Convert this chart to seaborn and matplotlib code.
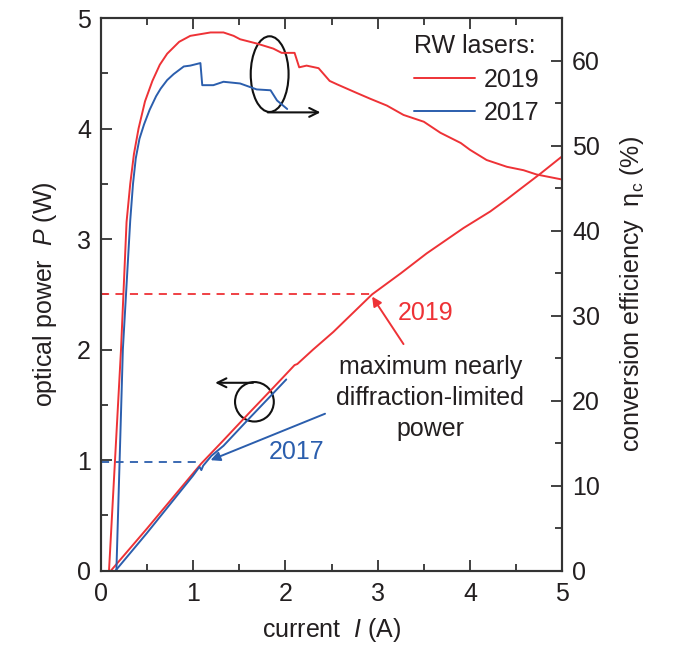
import numpy as np
import pandas as pd
import matplotlib
matplotlib.use("Agg")
import matplotlib.pyplot as plt
from matplotlib.patches import Ellipse
from matplotlib.lines import Line2D
import seaborn as sns

# ---------------- data ----------------
# optical power P (W) vs current I (A)
p19_I = [0.11, 0.5, 1.0, 1.09, 1.33, 1.6, 1.84, 2.01, 2.10, 2.13, 2.30, 2.52, 2.94, 3.25, 3.53, 3.93, 4.22, 4.40, 4.54, 4.76, 5.0]
p19_P = [0.0, 0.38, 0.88, 0.97, 1.18, 1.42, 1.63, 1.78, 1.86, 1.87, 2.0, 2.16, 2.50, 2.69, 2.87, 3.10, 3.25, 3.36, 3.45, 3.59, 3.75]
p17_I = [0.16, 0.5, 1.0, 1.07, 1.09, 1.11, 1.2, 1.33, 1.6, 1.84, 2.01]
p17_P = [0.0, 0.34, 0.86, 0.94, 0.91, 0.95, 1.04, 1.13, 1.37, 1.58, 1.73]

# conversion efficiency (%) vs current I (A)
e19_I = [0.09, 0.22, 0.28, 0.32, 0.36, 0.41, 0.48, 0.56, 0.64, 0.72, 0.85, 0.97, 1.08, 1.19, 1.33, 1.44, 1.51,
         1.69, 1.87, 1.96, 2.10, 2.15, 2.23, 2.36, 2.48, 2.56, 2.77, 2.92, 3.10, 3.28, 3.50, 3.68, 3.90,
         4.00, 4.18, 4.40, 4.58, 4.72, 4.86, 5.0]
e19_E = [0.0, 26.0, 41.0, 45.5, 49.0, 52.0, 55.2, 57.6, 59.5, 60.8, 62.2, 62.9, 63.1, 63.3, 63.3, 62.9, 62.5,
         62.0, 61.4, 60.9, 60.9, 59.2, 59.4, 59.1, 57.6, 57.2, 56.2, 55.5, 54.7, 53.6, 52.8, 51.5, 50.3,
         49.5, 48.3, 47.5, 47.1, 46.6, 46.3, 46.0]
e17_I = [0.17, 0.24, 0.32, 0.35, 0.38, 0.42, 0.47, 0.53, 0.60, 0.65, 0.72, 0.79, 0.90, 0.97, 1.08, 1.10,
         1.22, 1.33, 1.51, 1.69, 1.84, 1.91, 2.02]
e17_E = [0.0, 26.0, 41.2, 45.5, 48.5, 50.8, 52.5, 54.2, 55.8, 56.7, 57.7, 58.4, 59.3, 59.4, 59.7, 57.1,
         57.1, 57.5, 57.3, 56.6, 56.5, 55.3, 54.3]

# maximum nearly diffraction-limited power
pmax_2019 = 2.5
imax_2019 = 2.94
pmax_2017 = 0.98
imax_2017 = 1.10

series_labels = ["2019", "2017"]
legend_title = "RW lasers:"
xticks = [0, 1, 2, 3, 4, 5]
yticks_left = [0, 1, 2, 3, 4, 5]
yticks_right = [0, 10, 20, 30, 40, 50, 60]

RED = "#ee3236"
BLUE = "#2b5ead"
TXT = "#231f20"
BLK = "#111111"

# ---------------- style ----------------
sns.set_theme(style="ticks")
plt.rcParams["font.family"] = ["Liberation Sans", "DejaVu Sans"]
plt.rcParams["mathtext.fontset"] = "custom"
plt.rcParams["mathtext.rm"] = "Liberation Sans"
plt.rcParams["mathtext.it"] = "Liberation Sans:italic"
plt.rcParams["text.color"] = TXT
plt.rcParams["axes.labelcolor"] = TXT
plt.rcParams["xtick.color"] = "#333333"
plt.rcParams["ytick.color"] = "#333333"
plt.rcParams["xtick.labelcolor"] = TXT
plt.rcParams["ytick.labelcolor"] = TXT

FS = 18

fig = plt.figure(figsize=(6.79, 6.48), dpi=100)
ax = fig.add_axes([100.7 / 679, 1 - 570.7 / 648, (562.3 - 100.7) / 679, (570.7 - 18) / 648])
ax2 = ax.twinx()

lw = 1.4
sns.lineplot(x=p19_I, y=p19_P, ax=ax, color=RED, lw=lw, sort=False, estimator=None)
sns.lineplot(x=p17_I, y=p17_P, ax=ax, color=BLUE, lw=lw, sort=False, estimator=None)
sns.lineplot(x=e19_I, y=e19_E, ax=ax2, color=RED, lw=lw, sort=False, estimator=None)
sns.lineplot(x=e17_I, y=e17_E, ax=ax2, color=BLUE, lw=lw, sort=False, estimator=None)

# dashed limit lines
ax.plot([0, imax_2019], [pmax_2019, pmax_2019], ls=(0, (4.5, 3.5)), color=RED, lw=1.3)
ax.plot([0, imax_2017], [pmax_2017, pmax_2017], ls=(0, (4.5, 3.5)), color=BLUE, lw=1.3)

# annotations
ax.annotate("", xy=(imax_2019, pmax_2019 - 0.02), xytext=(3.28, 2.05),
            arrowprops=dict(arrowstyle="-|>", color=RED, lw=1.4, mutation_scale=14, shrinkA=0, shrinkB=0))
ax.text(3.52, 2.33, series_labels[0], color=RED, fontsize=FS, ha="center", va="center")
ax.annotate("", xy=(1.19, 1.0), xytext=(2.43, 1.42),
            arrowprops=dict(arrowstyle="-|>", color=BLUE, lw=1.4, mutation_scale=14, shrinkA=0, shrinkB=0))
ax.text(2.12, 1.07, series_labels[1], color=BLUE, fontsize=FS, ha="center", va="center")

ax.text(3.57, 1.56, "maximum nearly\ndiffraction-limited\npower", color=TXT, fontsize=FS,
        ha="center", va="center", linespacing=1.37)

# circle on power curves with arrow to the left
ax.add_patch(Ellipse((1.665, 1.528), 0.42, 0.357, fill=False, ec=BLK, lw=1.5))
ax.annotate("", xy=(1.24, 1.70), xytext=(1.65, 1.70),
            arrowprops=dict(arrowstyle="->", color=BLK, lw=1.5, mutation_scale=16, shrinkA=0, shrinkB=0))

# ellipse on efficiency curves with arrow to the right
ax2.add_patch(Ellipse((1.83, 58.4), 0.41, 8.9, fill=False, ec=BLK, lw=1.5))
ax2.annotate("", xy=(2.38, 53.9), xytext=(1.81, 53.9),
             arrowprops=dict(arrowstyle="->", color=BLK, lw=1.5, mutation_scale=16, shrinkA=0, shrinkB=0))

# axes
ax.set_xlim(0, 5)
ax.set_ylim(0, 5)
ax2.set_ylim(0, 65)
ax.set_xticks(xticks)
ax.set_xticks(np.arange(0, 5.01, 0.5), minor=True)
ax.set_yticks(yticks_left)
ax.set_yticks(np.arange(0, 5.01, 0.5), minor=True)
ax2.set_yticks(yticks_right)
ax2.set_yticks(np.arange(0, 65.1, 5), minor=True)

for a in (ax, ax2):
    a.tick_params(which="both", direction="in", labelsize=FS, width=1.3)
    a.tick_params(which="major", length=8, pad=7)
    a.tick_params(which="minor", length=5)
    for s in a.spines.values():
        s.set_visible(True)
        s.set_linewidth(1.5)
        s.set_color("#333333")
ax.tick_params(axis="x", which="both", top=True, pad=8)
ax.tick_params(axis="y", which="both", right=False)
ax2.tick_params(axis="y", which="both", left=False)

ax.set_xlabel("current  $I$ (A)", fontsize=FS, labelpad=7)
ax.set_ylabel("optical power  $P$ (W)", fontsize=FS, labelpad=13)
ax2.set_ylabel("conversion efficiency  η$_\\mathrm{c}$ (%)", fontsize=FS, labelpad=13)

handles = [Line2D([], [], color=RED, lw=lw), Line2D([], [], color=BLUE, lw=lw)]
leg = ax2.legend(handles, series_labels, title=legend_title, loc="upper right",
                 bbox_to_anchor=(0.962, 0.98), frameon=False, fontsize=FS, title_fontsize=FS,
                 handlelength=2.45, handletextpad=0.35, labelspacing=0.38, borderpad=0.2,
                 borderaxespad=0.0, alignment="left")

fig.savefig("out.png", dpi=100)
